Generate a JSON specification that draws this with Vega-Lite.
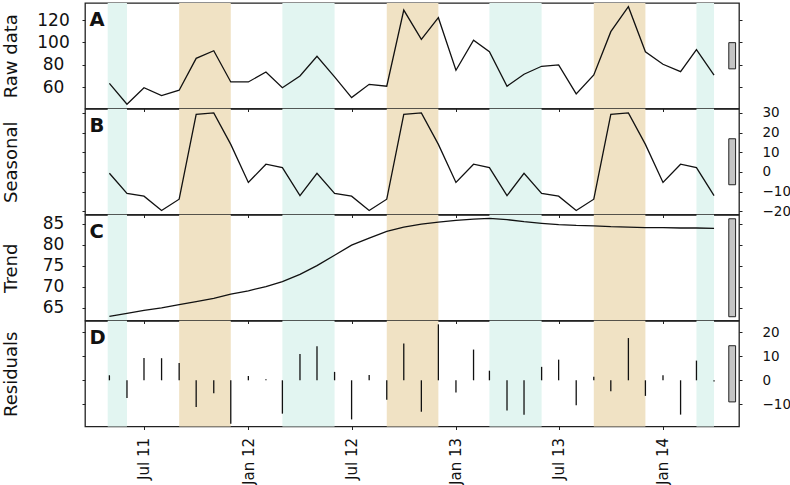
{
  "$schema": "https://vega.github.io/schema/vega-lite/v6.json",
  "background": "white",
  "padding": {"left": 1, "top": 2, "right": 0, "bottom": 0},
  "spacing": 0,
  "bounds": "flush",
  "config": {
    "font": "DejaVu Sans",
    "view": {"stroke": "#222", "strokeWidth": 1.3},
    "axis": {"grid": false, "domain": false, "tickColor": "#222", "tickSize": 3, "tickWidth": 1, "labelColor": "#111", "titleColor": "#111", "labelFont": "DejaVu Sans", "titleFont": "DejaVu Sans", "titleFontWeight": "normal", "titleFontSize": 18}
  },
  "datasets": {
    "main": [
      {"date": "2011-05-01", "raw": 63.5, "seasonal": -0.7, "trend": 62.9, "resid": 2.1},
      {"date": "2011-06-01", "raw": 44.8, "seasonal": -11.0, "trend": 63.6, "resid": -7.4},
      {"date": "2011-07-01", "raw": 59.6, "seasonal": -12.4, "trend": 64.3, "resid": 9.3},
      {"date": "2011-08-01", "raw": 52.5, "seasonal": -19.7, "trend": 64.9, "resid": 9.2},
      {"date": "2011-09-01", "raw": 57.3, "seasonal": -13.9, "trend": 65.7, "resid": 7.2},
      {"date": "2011-10-01", "raw": 85.8, "seasonal": 29.3, "trend": 66.4, "resid": -11.1},
      {"date": "2011-11-01", "raw": 92.6, "seasonal": 30.0, "trend": 67.2, "resid": -5.4},
      {"date": "2011-12-01", "raw": 64.7, "seasonal": 14.0, "trend": 68.2, "resid": -18.1},
      {"date": "2012-01-01", "raw": 64.7, "seasonal": -5.4, "trend": 69.0, "resid": 1.8},
      {"date": "2012-02-01", "raw": 73.6, "seasonal": 3.9, "trend": 70.0, "resid": 0.4},
      {"date": "2012-03-01", "raw": 59.6, "seasonal": 2.2, "trend": 71.2, "resid": -13.9},
      {"date": "2012-04-01", "raw": 70.0, "seasonal": -12.1, "trend": 72.9, "resid": 11.0},
      {"date": "2012-05-01", "raw": 87.6, "seasonal": -0.7, "trend": 75.0, "resid": 14.2},
      {"date": "2012-06-01", "raw": 69.2, "seasonal": -11.0, "trend": 77.5, "resid": 3.5},
      {"date": "2012-07-01", "raw": 50.7, "seasonal": -12.4, "trend": 79.9, "resid": -16.3},
      {"date": "2012-08-01", "raw": 62.6, "seasonal": -19.7, "trend": 81.6, "resid": 2.2},
      {"date": "2012-09-01", "raw": 60.9, "seasonal": -13.9, "trend": 83.2, "resid": -8.1},
      {"date": "2012-10-01", "raw": 128.9, "seasonal": 29.3, "trend": 84.2, "resid": 15.3},
      {"date": "2012-11-01", "raw": 102.8, "seasonal": 30.0, "trend": 84.9, "resid": -13.1},
      {"date": "2012-12-01", "raw": 122.1, "seasonal": 14.0, "trend": 85.4, "resid": 23.3},
      {"date": "2013-01-01", "raw": 75.1, "seasonal": -5.4, "trend": 85.8, "resid": -5.1},
      {"date": "2013-02-01", "raw": 101.9, "seasonal": 3.9, "trend": 86.1, "resid": 12.8},
      {"date": "2013-03-01", "raw": 91.7, "seasonal": 2.2, "trend": 86.3, "resid": 4.0},
      {"date": "2013-04-01", "raw": 60.9, "seasonal": -12.1, "trend": 86.0, "resid": -12.6},
      {"date": "2013-05-01", "raw": 71.6, "seasonal": -0.7, "trend": 85.5, "resid": -14.4},
      {"date": "2013-06-01", "raw": 78.7, "seasonal": -11.0, "trend": 85.1, "resid": 5.6},
      {"date": "2013-07-01", "raw": 79.9, "seasonal": -12.4, "trend": 84.8, "resid": 8.6},
      {"date": "2013-08-01", "raw": 54.0, "seasonal": -19.7, "trend": 84.6, "resid": -10.4},
      {"date": "2013-09-01", "raw": 70.9, "seasonal": -13.9, "trend": 84.5, "resid": 1.5},
      {"date": "2013-10-01", "raw": 109.6, "seasonal": 29.3, "trend": 84.3, "resid": -4.6},
      {"date": "2013-11-01", "raw": 131.9, "seasonal": 30.0, "trend": 84.2, "resid": 17.6},
      {"date": "2013-12-01", "raw": 91.7, "seasonal": 14.0, "trend": 84.1, "resid": -6.5},
      {"date": "2014-01-01", "raw": 80.5, "seasonal": -5.4, "trend": 84.1, "resid": 2.1},
      {"date": "2014-02-01", "raw": 73.9, "seasonal": 3.9, "trend": 84.0, "resid": -14.3},
      {"date": "2014-03-01", "raw": 93.5, "seasonal": 2.2, "trend": 84.0, "resid": 8.2},
      {"date": "2014-04-01", "raw": 70.9, "seasonal": -12.1, "trend": 83.9, "resid": -0.5}
    ],
    "bands": [
      {"date": "2011-04-28", "end": "2011-06-01", "kind": "teal"},
      {"date": "2011-09-01", "end": "2011-12-01", "kind": "tan"},
      {"date": "2012-03-01", "end": "2012-06-01", "kind": "teal"},
      {"date": "2012-09-01", "end": "2012-12-01", "kind": "tan"},
      {"date": "2013-03-01", "end": "2013-06-01", "kind": "teal"},
      {"date": "2013-09-01", "end": "2013-12-01", "kind": "tan"},
      {"date": "2014-03-01", "end": "2014-04-01", "kind": "teal"}
    ],
    "rangebars": [
      {"panel": "A", "date": "2014-04-27", "date2": "2014-05-09", "lo": 76.4, "hi": 99.8},
      {"panel": "B", "date": "2014-04-27", "date2": "2014-05-09", "lo": -6.55, "hi": 16.85},
      {"panel": "C", "date": "2014-04-27", "date2": "2014-05-09", "lo": 62.8, "hi": 86.2},
      {"panel": "D", "date": "2014-04-27", "date2": "2014-05-09", "lo": -9.0, "hi": 14.4}
    ]
  },
  "vconcat": [
    {
      "width": 654, "height": 105.5,
      "encoding": {"x": {"field": "date", "type": "temporal", "scale": {"type": "utc", "domain": [{"year": 2011, "month": 3, "date": 19, "utc": true}, {"year": 2014, "month": 5, "date": 15, "utc": true}]}, "axis": {"labels": false, "title": null, "values": [{"year": 2011, "month": 7, "date": 1, "utc": true}, {"year": 2012, "month": 1, "date": 1, "utc": true}, {"year": 2012, "month": 7, "date": 1, "utc": true}, {"year": 2013, "month": 1, "date": 1, "utc": true}, {"year": 2013, "month": 7, "date": 1, "utc": true}, {"year": 2014, "month": 1, "date": 1, "utc": true}]}}},
      "layer": [
        {"data": {"name": "bands"}, "mark": {"type": "rect"}, "encoding": {"x2": {"field": "end"}, "color": {"field": "kind", "type": "nominal", "scale": {"domain": ["teal", "tan"], "range": ["#e2f5f1", "#f0e2c4"]}, "legend": null}}},
        {"data": {"name": "main"}, "mark": {"type": "line", "color": "#111", "strokeWidth": 1.3}, "encoding": {"y": {"field": "raw", "type": "quantitative", "scale": {"domain": [41, 135.2], "nice": false, "zero": false}, "axis": {"orient": "left", "title": "Raw data", "values": [60, 80, 100, 120], "labelAlign": "center", "labelBaseline": "middle", "labelPadding": 29, "labelFontSize": 17, "titleX": -74, "titleBaseline": "middle"}}}},
        {"data": {"name": "rangebars"}, "transform": [{"filter": "datum.panel === 'A'"}], "mark": {"type": "rect", "fill": "#c4c4c4", "stroke": "#222", "strokeWidth": 1}, "encoding": {"x2": {"field": "date2"}, "y": {"field": "lo", "type": "quantitative", "scale": {"domain": [41, 135.2], "nice": false, "zero": false}, "axis": {"orient": "right", "title": "A", "titleX": -650, "titleY": 22, "titleAngle": 0, "titleAlign": "left", "titleBaseline": "alphabetic", "titleFontSize": 19.5, "titleFontWeight": "bold", "labels": false, "values": [60, 80, 100, 120]}}, "y2": {"field": "hi"}}}
      ],
      "resolve": {"axis": {"y": "independent"}}
    },
    {
      "width": 654, "height": 105.5,
      "encoding": {"x": {"field": "date", "type": "temporal", "scale": {"type": "utc", "domain": [{"year": 2011, "month": 3, "date": 19, "utc": true}, {"year": 2014, "month": 5, "date": 15, "utc": true}]}, "axis": {"labels": false, "title": null, "values": [{"year": 2011, "month": 7, "date": 1, "utc": true}, {"year": 2012, "month": 1, "date": 1, "utc": true}, {"year": 2012, "month": 7, "date": 1, "utc": true}, {"year": 2013, "month": 1, "date": 1, "utc": true}, {"year": 2013, "month": 7, "date": 1, "utc": true}, {"year": 2014, "month": 1, "date": 1, "utc": true}]}}},
      "layer": [
        {"data": {"name": "bands"}, "mark": {"type": "rect"}, "encoding": {"x2": {"field": "end"}, "color": {"field": "kind", "type": "nominal", "scale": {"domain": ["teal", "tan"], "range": ["#e2f5f1", "#f0e2c4"]}, "legend": null}}},
        {"data": {"name": "main"}, "mark": {"type": "line", "color": "#111", "strokeWidth": 1.3}, "encoding": {"y": {"field": "seasonal", "type": "quantitative", "scale": {"domain": [-21.7, 32], "nice": false, "zero": false}, "axis": {"orient": "left", "title": "Seasonal", "labels": false, "values": [-20, -10, 0, 10, 20, 30], "titleX": -74, "titleBaseline": "middle"}}}},
        {"data": {"name": "rangebars"}, "transform": [{"filter": "datum.panel === 'B'"}], "mark": {"type": "rect", "fill": "#c4c4c4", "stroke": "#222", "strokeWidth": 1}, "encoding": {"x2": {"field": "date2"}, "y": {"field": "lo", "type": "quantitative", "scale": {"domain": [-21.7, 32], "nice": false, "zero": false}, "axis": {"orient": "right", "title": "B", "titleX": -650, "titleY": 22, "titleAngle": 0, "titleAlign": "left", "titleBaseline": "alphabetic", "titleFontSize": 19.5, "titleFontWeight": "bold", "values": [-20, -10, 0, 10, 20, 30], "labelAlign": "left", "labelPadding": 20, "labelFontSize": 13.5}}, "y2": {"field": "hi"}}}
      ],
      "resolve": {"axis": {"y": "independent"}}
    },
    {
      "width": 654, "height": 105.5,
      "encoding": {"x": {"field": "date", "type": "temporal", "scale": {"type": "utc", "domain": [{"year": 2011, "month": 3, "date": 19, "utc": true}, {"year": 2014, "month": 5, "date": 15, "utc": true}]}, "axis": {"labels": false, "title": null, "values": [{"year": 2011, "month": 7, "date": 1, "utc": true}, {"year": 2012, "month": 1, "date": 1, "utc": true}, {"year": 2012, "month": 7, "date": 1, "utc": true}, {"year": 2013, "month": 1, "date": 1, "utc": true}, {"year": 2013, "month": 7, "date": 1, "utc": true}, {"year": 2014, "month": 1, "date": 1, "utc": true}]}}},
      "layer": [
        {"data": {"name": "bands"}, "mark": {"type": "rect"}, "encoding": {"x2": {"field": "end"}, "color": {"field": "kind", "type": "nominal", "scale": {"domain": ["teal", "tan"], "range": ["#e2f5f1", "#f0e2c4"]}, "legend": null}}},
        {"data": {"name": "main"}, "mark": {"type": "line", "color": "#111", "strokeWidth": 1.3}, "encoding": {"y": {"field": "trend", "type": "quantitative", "scale": {"domain": [61.9, 87.1], "nice": false, "zero": false}, "axis": {"orient": "left", "title": "Trend", "values": [65, 70, 75, 80, 85], "labelAlign": "center", "labelBaseline": "middle", "labelPadding": 29, "labelFontSize": 17, "titleX": -74, "titleBaseline": "middle"}}}},
        {"data": {"name": "rangebars"}, "transform": [{"filter": "datum.panel === 'C'"}], "mark": {"type": "rect", "fill": "#c4c4c4", "stroke": "#222", "strokeWidth": 1}, "encoding": {"x2": {"field": "date2"}, "y": {"field": "lo", "type": "quantitative", "scale": {"domain": [61.9, 87.1], "nice": false, "zero": false}, "axis": {"orient": "right", "title": "C", "titleX": -650, "titleY": 22, "titleAngle": 0, "titleAlign": "left", "titleBaseline": "alphabetic", "titleFontSize": 19.5, "titleFontWeight": "bold", "labels": false, "values": [65, 70, 75, 80, 85]}}, "y2": {"field": "hi"}}}
      ],
      "resolve": {"axis": {"y": "independent"}}
    },
    {
      "width": 654, "height": 105.5,
      "encoding": {"x": {"field": "date", "type": "temporal", "scale": {"type": "utc", "domain": [{"year": 2011, "month": 3, "date": 19, "utc": true}, {"year": 2014, "month": 5, "date": 15, "utc": true}]}, "axis": {"labels": true, "title": null, "format": "%b %y", "labelAngle": -90, "labelFontSize": 15, "labelPadding": 8, "values": [{"year": 2011, "month": 7, "date": 1, "utc": true}, {"year": 2012, "month": 1, "date": 1, "utc": true}, {"year": 2012, "month": 7, "date": 1, "utc": true}, {"year": 2013, "month": 1, "date": 1, "utc": true}, {"year": 2013, "month": 7, "date": 1, "utc": true}, {"year": 2014, "month": 1, "date": 1, "utc": true}]}}},
      "layer": [
        {"data": {"name": "bands"}, "mark": {"type": "rect"}, "encoding": {"x2": {"field": "end"}, "color": {"field": "kind", "type": "nominal", "scale": {"domain": ["teal", "tan"], "range": ["#e2f5f1", "#f0e2c4"]}, "legend": null}}},
        {"data": {"values": [{"level": 0}]}, "mark": {"type": "rule", "color": "#111", "strokeWidth": 1.3}, "encoding": {"x": {"datum": {"year": 2011, "month": 3, "date": 19, "utc": true}, "type": "temporal"}, "x2": {"datum": {"year": 2014, "month": 5, "date": 15, "utc": true}}, "y": {"field": "level", "type": "quantitative", "scale": {"domain": [-19.25, 24.7], "nice": false, "zero": false}, "axis": null}}},
        {"data": {"name": "main"}, "mark": {"type": "rule", "color": "#111", "strokeWidth": 1.3}, "encoding": {"y": {"field": "resid", "type": "quantitative", "scale": {"domain": [-19.25, 24.7], "nice": false, "zero": false}, "axis": {"orient": "left", "title": "Residuals", "labels": false, "values": [-10, 0, 10, 20], "titleX": -74, "titleBaseline": "middle"}}, "y2": {"datum": 0}}},
        {"data": {"name": "rangebars"}, "transform": [{"filter": "datum.panel === 'D'"}], "mark": {"type": "rect", "fill": "#c4c4c4", "stroke": "#222", "strokeWidth": 1}, "encoding": {"x2": {"field": "date2"}, "y": {"field": "lo", "type": "quantitative", "scale": {"domain": [-19.25, 24.7], "nice": false, "zero": false}, "axis": {"orient": "right", "title": "D", "titleX": -650, "titleY": 22, "titleAngle": 0, "titleAlign": "left", "titleBaseline": "alphabetic", "titleFontSize": 19.5, "titleFontWeight": "bold", "values": [-10, 0, 10, 20], "labelAlign": "left", "labelPadding": 20, "labelFontSize": 13.5}}, "y2": {"field": "hi"}}}
      ],
      "resolve": {"axis": {"y": "independent"}}
    }
  ]
}
